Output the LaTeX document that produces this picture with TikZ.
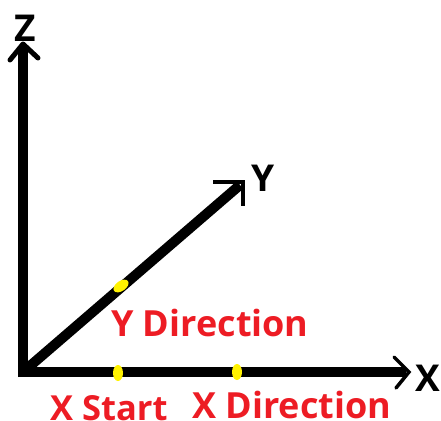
\documentclass[tikz,border=0pt]{standalone}
\usepackage{fontspec}
\setmainfont{Open Sans}
\begin{document}
\begin{tikzpicture}[x=1pt,y=-1pt,
  axisline/.style={line width=10pt,black,line cap=butt},
  headline/.style={line width=3.5pt,black,line join=miter,line cap=round},
  axislabel/.style={font=\fontsize{37}{37}\selectfont\bfseries,black,inner sep=0pt},
  redlabel/.style={font=\fontsize{36}{36}\selectfont\bfseries,color={rgb,255:red,237;green,28;blue,36},inner sep=0pt}]
\useasboundingbox (0,0) rectangle (441,420);
\clip (0,0) rectangle (441,420);
\coordinate (o) at (23,372);
\coordinate (zt) at (23,46);
\coordinate (xt) at (406,372);
\coordinate (yt) at (240,185);
\draw[axisline] (23,377) -- (zt);
\draw[axisline] (18,372) -- (xt);
\draw[axisline] (o) -- (yt);
\draw[line width=5pt,black,line cap=round,line join=round] (10,60) -- (23,44) -- (38,58);
\draw[headline] (394,357) -- (409,372) -- (396,388);
\draw[headline,line cap=butt] (213,182) -- (243,182) -- (243,206);
\fill[yellow] (118,373) ellipse [x radius=5,y radius=8];
\fill[yellow] (237,372) ellipse [x radius=5,y radius=8];
\fill[yellow,rotate around={35:(121,286)}] (121,286) ellipse [x radius=8.5,y radius=5];
\node[axislabel] (zl) at (25,28) {Z};
\node[axislabel] (yl) at (263,178) {Y};
\node[axislabel] (xl) at (428,378) {X};
\node[redlabel,anchor=base west] (yd) at (111,336) {Y Direction};
\node[redlabel,font=\fontsize{34.5}{35}\selectfont\bfseries,anchor=base west] (xs) at (50,420) {X Start};
\node[redlabel,anchor=base west] (xd) at (192,418) {X Direction};
\end{tikzpicture}
\end{document}
